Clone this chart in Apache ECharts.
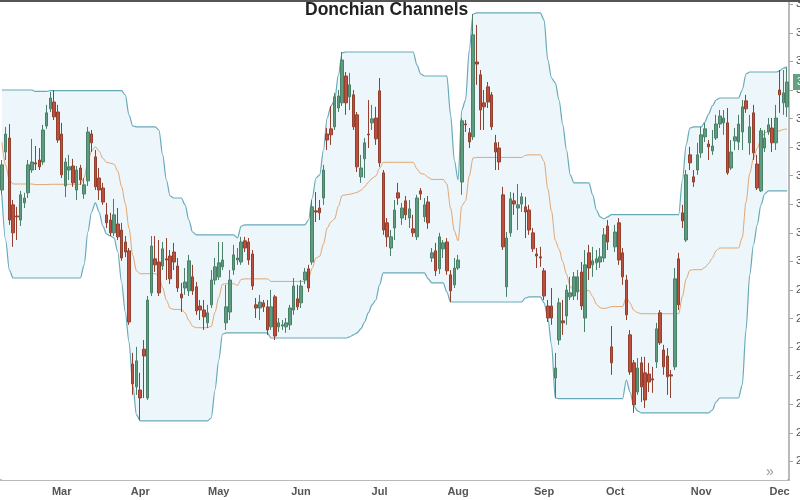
<!DOCTYPE html>
<html>
<head>
<meta charset="utf-8">
<title>Donchian Channels</title>
<script src="https://cdn.jsdelivr.net/npm/echarts@6/dist/echarts.min.js"></script>
<style>
html, body { margin: 0; padding: 0; background: #fff; }
#chart { width: 800px; height: 500px; }
</style>
</head>
<body>
<div id="chart"></div>
<script>
// trading sessions per month shown on the axis
const months = ['Feb', 'Mar', 'Apr', 'May', 'Jun', 'Jul', 'Aug', 'Sep', 'Oct', 'Nov', 'Dec'];
const sessions = [16, 21, 21, 22, 21, 21, 23, 19, 23, 21, 3];
const yTicks = [230, 240, 250, 260, 270, 280, 290, 300, 310, 320, 330, 340, 350, 360, 370, 380, 390];

// [open, close, low, high]
const candles = [
  [325.0,333.8,323.3,335.5],[338.3,344.6,335.5,347.1],[343.2,314.5,312.8,348.1],[319.8,310.0,305.1,321.5],[315.9,315.6,307.5,319.1],
  [314.5,323.3,312.4,324.7],[320.5,322.2,318.7,324.0],[324.0,333.8,322.2,335.5],[332.0,334.8,331.0,342.9],[334.5,334.1,332.0,340.4],
  [335.5,333.1,332.0,339.7],[334.8,346.0,333.8,347.8],[347.4,352.0,346.4,354.8],[353.4,357.2,352.3,359.3],[355.8,350.6,349.5,360.0],
  [352.3,342.5,341.5,354.8],[344.6,330.3,329.2,348.5],[326.4,334.8,322.5,336.2],[332.0,333.1,328.5,337.3],[333.4,327.5,326.1,335.9],
  [325.0,332.0,321.5,333.4],[332.7,328.5,326.8,333.8],[323.6,326.8,321.9,329.2],[328.2,345.3,326.4,347.1],[344.6,341.5,338.3,346.0],
  [336.6,326.1,325.0,339.0],[329.2,325.0,321.5,332.7],[325.7,320.8,319.8,327.5],[316.3,313.5,311.7,320.5],[314.5,310.0,308.9,317.0],
  [310.0,316.3,308.9,321.9],[313.1,308.6,307.5,318.7],[311.0,301.2,300.2,313.5],[306.8,303.3,301.5,308.9],[303.7,278.8,277.8,304.7],
  [264.1,257.1,253.3,268.0],[256.1,265.2,253.3,270.1],[255.0,252.2,244.5,261.0],[269.3,266.9,252.2,272.5],[252.2,286.5,251.5,287.9],
  [289.0,305.4,287.9,308.9],[300.9,298.8,296.3,308.9],[299.8,289.0,287.9,307.5],[298.4,304.4,297.0,306.8],[300.9,300.5,293.5,308.2],
  [301.9,293.9,292.1,304.0],[303.3,299.8,297.0,306.5],[298.4,290.7,289.3,301.2],[288.6,287.2,282.3,292.5],[290.7,292.8,288.3,297.7],
  [289.7,300.2,287.9,302.3],[294.6,289.7,288.3,298.8],[291.1,282.7,281.3,292.8],[284.4,283.0,279.5,286.5],[283.0,280.6,276.0,286.5],
  [278.5,282.0,276.7,284.8],[284.8,293.5,283.7,297.0],[293.5,298.1,291.8,301.2],[294.6,299.5,293.5,306.8],[298.1,300.5,297.0,306.8],
  [278.5,284.1,276.0,291.8],[282.3,293.5,279.5,297.0],[297.0,302.3,295.3,305.8],[300.5,301.2,298.8,304.7],[299.8,306.8,298.8,308.6],
  [307.2,304.7,303.3,308.6],[306.8,300.5,298.8,308.2],[302.6,291.4,290.0,304.0],[284.8,283.7,280.2,287.2],[283.7,285.8,279.5,288.3],
  [285.5,284.1,282.3,286.5],[284.1,276.0,274.3,286.5],[277.1,284.1,276.0,290.0],[287.6,273.9,272.5,288.3],[277.1,278.5,275.3,280.2],
  [277.4,277.8,276.0,279.5],[277.1,278.5,275.0,280.2],[277.8,283.7,276.0,284.8],[283.0,291.4,281.3,294.2],[286.9,284.1,283.0,291.8],
  [285.5,291.4,283.7,293.5],[293.5,296.3,292.1,297.7],[297.4,290.7,289.3,298.8],[299.8,319.1,298.8,321.5],[317.7,317.3,313.8,324.3],
  [318.7,317.0,314.5,321.5],[322.2,332.0,319.8,333.8],[344.6,342.5,339.0,346.7],[346.4,344.3,340.8,354.4],[347.1,357.6,346.0,359.0],
  [353.7,357.9,352.3,360.0],[355.5,370.5,354.4,373.3],[364.9,355.5,351.3,366.3],[357.6,361.8,353.0,366.0],[358.3,347.1,346.0,360.0],
  [351.3,333.1,331.3,352.3],[329.6,332.7,327.5,337.3],[335.9,341.5,329.2,343.2],[344.6,344.3,339.7,356.5],[348.5,349.9,346.0,354.8],
  [350.2,342.9,340.8,354.1],[359.7,334.5,333.1,364.2],[331.0,311.0,309.3,332.0],[313.5,308.6,305.1,315.2],[304.7,308.6,301.9,311.0],
  [311.7,318.0,307.5,321.5],[324.0,322.2,319.8,327.5],[315.2,318.7,312.8,320.5],[321.2,316.3,314.5,322.9],[315.2,318.4,311.7,321.5],
  [311.4,310.0,308.6,316.3],[308.6,322.2,307.5,323.3],[324.7,323.6,321.5,325.7],[315.6,319.8,313.8,322.2],[320.8,313.5,311.4,322.9],
  [301.2,303.0,299.8,304.7],[303.7,296.7,294.9,306.5],[297.4,308.6,295.6,310.0],[304.4,306.5,301.2,307.5],[306.8,296.7,295.3,308.2],
  [295.3,289.7,285.8,297.0],[291.8,297.7,290.7,301.2],[297.7,300.5,297.0,302.3],[327.8,349.2,323.3,350.2],[348.1,347.8,345.3,349.5],
  [345.0,341.8,339.7,346.7],[343.6,379.3,342.5,386.6],[369.8,369.1,361.8,382.8],[365.3,353.0,346.0,367.0],[355.5,354.1,346.0,360.0],
  [361.1,355.8,353.7,362.8],[358.3,347.1,346.0,359.3],[341.5,338.3,332.0,344.3],[339.7,334.8,332.0,341.8],[323.3,305.1,304.0,326.1],
  [291.1,308.2,287.6,310.3],[310.0,321.9,308.6,324.3],[321.2,320.1,316.3,324.0],[318.7,319.8,311.0,327.1],[320.1,322.6,317.3,324.0],
  [319.1,317.3,308.2,322.6],[318.0,311.0,309.3,319.8],[310.0,304.4,303.3,311.7],[302.6,301.9,297.7,304.7],[301.6,301.2,298.1,305.1],
  [296.7,287.9,286.5,297.7],[284.4,280.2,278.8,286.5],[284.4,280.2,277.8,290.7],[259.2,262.7,252.2,268.0],[272.5,285.5,270.8,287.2],
  [279.2,278.5,274.3,286.5],[280.9,290.0,277.8,291.8],[287.6,289.0,286.5,294.6],[287.9,294.6,286.5,296.3],[289.3,294.6,286.5,297.0],
  [296.3,284.4,283.0,299.8],[280.2,298.8,275.3,304.0],[303.0,297.7,293.5,305.8],[298.8,300.2,294.6,305.1],[299.5,300.9,297.0,304.0],
  [299.8,301.6,297.7,304.7],[301.2,309.3,299.8,311.7],[312.4,306.8,304.0,314.5],[270.1,264.5,260.3,277.4],[305.1,310.3,303.3,312.8],
  [313.5,300.5,298.8,315.2],[303.0,294.6,291.8,304.7],[293.5,281.3,279.5,295.3],[274.3,261.3,260.3,276.0],[264.5,249.8,247.0,265.5],
  [254.3,262.7,253.3,266.2],[264.5,256.1,250.8,266.6],[261.0,251.5,248.7,266.6],[260.6,257.8,254.3,264.5],[258.9,258.5,254.0,263.1],
  [264.8,276.4,262.7,278.5],[282.0,271.5,270.8,283.0],[269.0,263.1,260.3,270.8],[266.9,259.6,253.3,269.7],[260.3,259.9,252.2,262.0],
  [263.1,293.9,262.0,297.7],[300.9,284.8,283.0,303.0],[317.0,314.2,311.7,319.8],[307.5,330.3,306.8,332.0],[337.3,334.5,332.0,340.1],
  [329.6,327.8,326.1,332.0],[332.0,337.3,330.3,341.5],[338.0,344.3,336.2,347.1],[343.6,346.4,341.8,348.5],[341.1,340.1,335.5,342.5],
  [338.7,340.4,337.3,346.0],[343.2,348.1,342.5,351.3],[348.1,350.9,346.7,353.0],[348.5,350.2,344.3,353.0],[348.5,331.0,330.3,353.7],
  [332.7,338.3,332.0,342.5],[342.2,343.6,339.0,346.7],[341.8,348.1,339.0,351.3],[345.3,354.1,339.0,356.5],[356.2,353.4,352.0,358.3],
  [341.5,347.1,337.3,351.3],[352.0,338.0,335.5,354.8],[334.1,325.7,325.0,337.3],[324.7,345.7,324.3,346.7],[339.7,343.2,338.3,346.0],
  [345.3,347.8,344.3,350.2],[346.7,341.5,338.3,350.2],[341.5,350.2,339.0,354.8],[360.0,358.3,352.0,367.0],[355.5,359.0,351.3,367.0],
  [354.1,362.8,350.6,367.7]
];

// channel lines, one value per session
const upper = [
  360.0,360.0,360.0,360.0,360.0,360.0,360.0,360.0,360.0,359.5,
  359.5,359.5,359.5,359.8,359.8,359.8,359.8,359.8,359.8,359.8,
  359.8,359.8,359.8,359.8,359.8,359.8,359.8,359.8,359.8,359.8,
  359.8,359.8,359.8,358.3,351.3,347.4,347.1,347.1,347.1,347.1,
  347.1,347.1,346.0,337.3,328.5,322.9,322.2,322.2,322.2,319.8,
  314.5,310.3,309.3,309.3,309.3,309.3,309.3,309.3,309.3,309.3,
  309.3,309.3,309.3,308.2,312.4,312.8,312.8,312.8,312.8,312.8,
  312.8,312.8,312.8,312.8,312.8,312.8,312.8,312.8,312.8,312.8,
  312.8,312.8,314.5,322.2,329.2,330.3,339.0,350.2,354.4,356.5,
  365.3,373.0,373.3,373.3,373.3,373.3,373.3,373.3,373.3,373.3,
  373.3,373.3,373.3,373.3,373.3,373.3,373.3,373.3,373.3,373.3,
  373.3,368.8,365.6,364.9,364.9,364.9,364.9,364.9,364.9,364.9,
  351.3,335.5,328.5,353.0,356.5,374.0,386.6,387.0,387.0,387.0,
  387.0,387.0,387.0,387.0,387.0,387.0,387.0,387.0,387.0,387.0,
  387.0,387.0,387.0,387.0,387.0,384.5,370.5,364.2,362.5,356.5,
  347.8,339.0,330.3,327.5,327.5,327.5,327.5,327.5,323.3,318.0,
  315.6,314.9,315.6,316.4,316.4,316.4,316.4,316.4,316.4,316.4,
  316.4,316.4,316.4,316.4,316.4,316.4,316.4,316.4,316.4,316.4,
  316.4,316.4,328.5,340.8,346.7,347.1,347.1,347.1,348.8,351.6,
  354.4,356.5,357.2,357.2,357.2,357.2,357.2,357.2,360.0,365.6,
  366.3,366.3,366.3,366.3,366.3,366.3,366.3,366.3,366.7,367.7,
  368.1
];
const lower = [
  323.3,307.5,297.0,294.2,294.2,294.2,294.2,294.2,294.2,294.2,
  294.2,294.2,294.2,294.2,294.2,294.2,294.2,294.2,294.2,294.2,
  294.2,294.2,298.8,310.3,317.3,320.5,317.3,312.4,309.6,308.9,
  308.2,303.3,292.8,282.3,271.8,256.8,246.3,244.2,244.2,244.2,
  244.2,244.2,244.2,244.2,244.2,244.2,244.2,244.2,244.2,244.2,
  244.2,244.2,244.2,244.2,244.2,244.2,245.2,255.0,265.5,274.6,
  275.0,275.0,275.0,275.0,275.0,275.0,275.0,275.0,275.0,275.0,
  275.0,275.0,273.2,273.2,273.2,273.2,273.2,273.2,273.2,273.2,
  273.2,273.2,273.2,273.2,273.2,273.2,273.2,273.2,273.2,273.2,
  273.2,273.2,273.2,273.6,274.3,275.0,276.4,278.8,282.0,284.8,
  286.5,291.8,296.0,296.0,296.0,296.0,296.0,296.0,296.0,296.0,
  296.0,296.0,296.0,296.0,293.9,292.5,292.5,292.5,292.5,289.3,
  285.8,285.8,285.8,285.8,285.8,285.8,285.8,285.8,285.8,285.8,
  285.8,285.8,285.8,285.8,285.8,285.8,285.8,285.8,285.8,285.8,
  287.2,287.6,287.6,287.6,287.6,285.5,280.2,270.8,252.2,252.0,
  252.0,252.0,252.0,252.0,252.0,252.0,252.0,252.0,252.0,252.0,
  252.0,252.0,252.0,252.0,252.0,252.0,252.0,258.5,254.3,249.4,
  247.7,247.0,247.0,247.0,247.0,247.0,247.0,247.0,247.0,247.0,
  247.0,247.0,247.0,247.0,247.0,247.0,247.0,247.0,247.0,247.0,
  248.0,250.8,252.2,252.2,252.2,252.2,252.2,252.2,256.8,276.0,
  295.3,305.8,312.8,319.8,323.6,324.7,324.7,324.7,324.7,324.7,
  324.7
];
const middle = [
  341.7,333.8,328.5,327.1,327.1,327.1,327.1,327.1,327.1,326.9,
  326.9,326.9,326.9,327.0,327.0,327.0,327.0,327.0,327.0,327.0,
  327.0,327.0,329.3,335.1,338.6,340.2,338.6,336.1,334.7,334.4,
  334.0,331.6,326.3,320.3,311.6,302.1,296.7,295.7,295.7,295.7,
  295.7,295.7,295.1,290.8,286.4,283.6,283.2,283.2,283.2,282.0,
  279.4,277.3,276.8,276.8,276.8,276.8,277.3,282.2,287.4,292.0,
  292.2,292.2,292.2,291.6,293.7,293.9,293.9,293.9,293.9,293.9,
  293.9,293.9,293.0,293.0,293.0,293.0,293.0,293.0,293.0,293.0,
  293.0,293.0,293.9,297.7,301.2,301.8,306.1,311.7,313.8,314.9,
  319.3,323.1,323.3,323.5,323.8,324.2,324.9,326.1,327.7,329.1,
  329.9,332.6,334.7,334.7,334.7,334.7,334.7,334.7,334.7,334.7,
  334.7,332.4,330.8,330.5,329.4,328.7,328.7,328.7,328.7,327.1,
  318.6,310.7,307.2,319.4,321.2,329.9,336.2,336.4,336.4,336.4,
  336.4,336.4,336.4,336.4,336.4,336.4,336.4,336.4,336.4,336.4,
  337.1,337.3,337.3,337.3,337.3,335.0,325.4,317.5,307.4,304.3,
  299.9,295.5,291.2,289.8,289.8,289.8,289.8,289.8,287.7,285.0,
  283.8,283.5,283.8,284.2,284.2,284.2,284.2,287.5,285.4,282.9,
  282.1,281.7,281.7,281.7,281.7,281.7,281.7,281.7,281.7,281.7,
  281.7,281.7,287.8,293.9,296.9,297.1,297.1,297.1,297.9,299.3,
  301.2,303.7,304.7,304.7,304.7,304.7,304.7,304.7,308.4,320.8,
  330.8,336.1,339.6,343.1,345.0,345.5,345.5,345.5,345.7,346.2,
  346.4
];

// one category per session, month name only on the first session of a month
let days = [];
let monthStart = {};
months.forEach((m, k) => {
  if (k > 0) monthStart[days.length] = true;
  for (let j = 1; j <= sessions[k]; j++) {
    days.push(m + ' ' + j);
  }
});
function isMonthStart(idx) {
  return !!monthStart[idx];
}

const font = 'Liberation Sans, Arial, sans-serif';
const bandColor = '#68a9b9';
const axisGray = '#a3a3a3';
const lastClose = candles[candles.length - 1][1];

const myChart = echarts.init(document.getElementById('chart'));
myChart.setOption({
  animation: false,
  backgroundColor: '#fff',
  title: {
    text: 'Donchian Channels',
    left: 305,
    top: 1,
    padding: 0,
    textStyle: { fontFamily: font, fontSize: 17.5, fontWeight: 'bold', color: '#222' }
  },
  grid: { left: 0, right: 11, top: 0, bottom: 20, containLabel: false, outerBoundsMode: 'none' },
  xAxis: {
    type: 'category',
    data: days,
    boundaryGap: true,
    axisLine: { lineStyle: { color: axisGray, width: 1.5 } },
    axisTick: { alignWithLabel: true, interval: isMonthStart, length: 3, lineStyle: { color: axisGray } },
    axisLabel: {
      interval: isMonthStart,
      formatter: function (v) { return v.split(' ')[0]; },
      color: '#555',
      fontFamily: font,
      fontSize: 11,
      fontWeight: 'bold',
      margin: 6
    },
    splitLine: { show: false }
  },
  yAxis: {
    type: 'value',
    position: 'right',
    min: 223.5,
    max: 391.5,
    axisLine: { show: true, lineStyle: { color: axisGray, width: 1.5 } },
    axisTick: { show: true, length: 4, customValues: yTicks, lineStyle: { color: axisGray } },
    axisLabel: { customValues: yTicks, margin: 7, color: '#555', fontFamily: font, fontSize: 11 },
    splitLine: { show: false }
  },
  graphic: [
    { type: 'rect', left: 0, top: 0, z: 100, shape: { width: 800, height: 2 }, style: { fill: '#555' } },
    { type: 'text', left: 766, top: 465, z: 100, style: { text: '»', fill: '#999', font: '14px ' + font } }
  ],
  series: [
    {
      name: 'Upper',
      type: 'line',
      data: upper,
      symbol: 'none',
      smooth: 0.3,
      smoothMonotone: 'x',
      lineStyle: { color: bandColor, width: 1.2 },
      areaStyle: { color: '#edf6fa', opacity: 1, origin: 'start' },
      z: 1
    },
    {
      // white fill under the lower band hides the upper fill there
      name: 'Lower',
      type: 'line',
      data: lower,
      symbol: 'none',
      smooth: 0.3,
      smoothMonotone: 'x',
      lineStyle: { color: bandColor, width: 1.2 },
      areaStyle: { color: '#fff', opacity: 1, origin: 'start' },
      z: 2
    },
    {
      name: 'Middle',
      type: 'line',
      data: middle,
      symbol: 'none',
      smooth: 0.3,
      smoothMonotone: 'x',
      lineStyle: { color: '#e2a571', width: 1 },
      z: 3
    },
    {
      name: 'Price',
      type: 'candlestick',
      data: candles,
      barWidth: 3,
      itemStyle: {
        color: '#5e9c7f',
        color0: '#bd4f3f',
        borderColor: '#4b8068',
        borderColor0: '#94402f',
        borderWidth: 1
      },
      z: 4,
      markLine: {
        silent: true,
        symbol: 'none',
        lineStyle: { color: 'rgba(0,0,0,0)', width: 0 },
        label: {
          show: true,
          position: 'end',
          distance: 4,
          formatter: function (p) { return p.value.toFixed(2); },
          color: '#fff',
          backgroundColor: '#62a283',
          padding: [3, 4, 2, 4],
          fontFamily: font,
          fontSize: 11
        },
        data: [{ yAxis: lastClose }]
      }
    }
  ]
});
</script>
</body>
</html>
